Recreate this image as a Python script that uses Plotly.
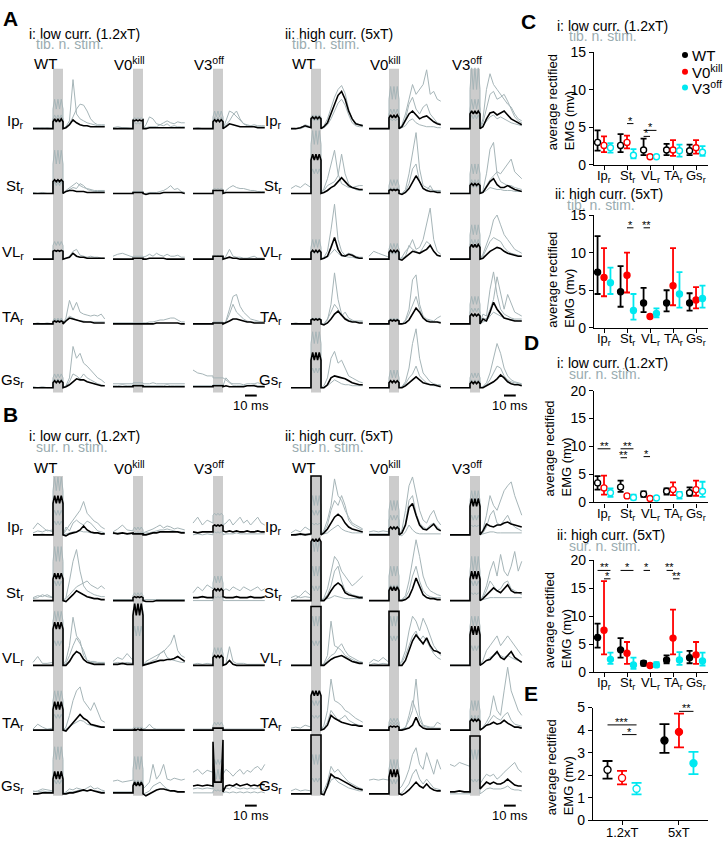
import plotly.graph_objects as go

W, H = 723, 846

GENOS = ["WT", "V0<sup>kill</sup>", "V3<sup>off</sup>"]
MUSCLES = ["Ip<sub>r</sub>", "St<sub>r</sub>", "VL<sub>r</sub>", "TA<sub>r</sub>", "Gs<sub>r</sub>"]
COLORS = ["#000000", "#ff0000", "#00e8f0"]
GRAY_TRACE = "#a6b5b8"
STIM_GRAY = "#cccccc"
SUBTITLE = "#9aacb0"

# time base of the EMG traces (ms, stimulus train 0-8.5 ms)
T_MS = [-17, -13, -9, -5, 0, 0, 1.4, 2.8, 4.2, 5.6, 7, 8.5, 8.5,
        11, 14, 17, 20, 23, 26, 29, 32, 35, 38, 41, 44]

# EMG traces (amplitude, a.u.) per muscle Ip, St, VL, TA, Gs; first trace = mean (black), rest = single animals
A_LOW_WT = [
    [[0,0,0,0,0, 7,10,7,10,7,10,7, 0, 1,4,9,6,4,3,3,2,2,2,2,2],
     [1,0,1,0,0, 20,30,20,30,20,30,20, 0, 2,8,50,15,10,8,6,5,4,3,3,3],
     [0,1,0,1,0, 10,14,10,14,10,14,10, 0, 2,5,12,20,25,24,18,10,6,4,4,4]],
    [[0,0,0,0,0, 12,14,12,14,12,14,12, 0, 2,3,3,2,2,2,1,1,1,1,1,1],
     [0,0,0,0,0, 30,44,30,44,30,44,30, 0, 3,6,9,11,8,6,5,4,3,3,3,3],
     [1,0,1,0,0, 8,12,8,12,8,12,8, 0, 2,4,6,5,10,8,4,3,2,2,2,2]],
    [[0,0,0,0,0, 8,9,8,9,8,9,8, 0, 1,2,6,3,2,2,1,1,1,1,1,1],
     [0,0,0,0,0, 14,18,14,18,14,18,14, 0, 1,3,8,10,4,3,2,3,2,2,1,1]],
    [[0,0,0,0,0, 2,3,2,3,2,3,2, 0, 3,6,5,4,3,2,2,2,1,1,1,1],
     [0,1,0,0,0, 3,6,3,6,3,6,3, 0, 6,24,14,22,12,10,9,8,9,8,10,5],
     [0,0,0,1,0, 3,5,3,5,3,5,3, 0, 4,8,6,4,3,3,2,2,2,2,2,2]],
    [[0,0,0,0,0, 5,7,5,7,5,7,5, 0, 1,3,6,9,8,8,6,5,4,3,2,2],
     [0,0,0,0,0, 10,14,10,14,10,14,10, 0, 2,10,42,30,35,25,22,18,14,10,8,5],
     [1,0,1,0,0, 6,9,6,9,6,9,6, 0, 1,6,14,12,9,14,10,8,6,4,3,2]],
]
A_LOW_V0 = [
    [[0,0,0,0,0, 9,8,9,8,9,8,9, 0, 0,1,1,1,1,1,1,1,1,1,1,1],
     [1,2,1,1,0, 10,11,10,11,10,11,10, 0, 4,12,10,5,4,6,8,6,5,7,6,6],
     [0,0,1,0,0, 5,6,5,6,5,6,5, 0, 1,2,2,2,4,3,5,2,3,2,2,2]],
    [[0,0,0,0,0, 1,1,1,1,1,1,1, 0, -1,0,0,0,0,1,1,1,1,1,1,0],
     [0,0,0,0,0, 2,2,2,2,2,2,2, 0, 0,1,1,1,2,3,5,8,4,5,2,1]],
    [[0,0,0,0,0, 1,1,1,1,1,1,1, 0, 0,1,1,1,1,1,0,0,0,0,0,0],
     [3,5,6,4,2, 3,3,3,3,3,3,3, 2, 3,5,3,6,4,3,5,3,3,4,2,2]],
    [[0,0,0,0,0, 0,0,0,0,0,0,0, 0, 0,0,0,1,1,1,1,1,1,1,0,0],
     [1,1,1,1,1, 1,1,1,1,1,1,1, 1, 1,2,2,3,4,4,5,6,6,4,2,2]],
    [[1,1,1,1,1, 2,2,2,2,2,2,2, 1, 1,1,1,1,1,1,1,1,1,1,1,1],
     [4,4,4,4,4, 5,5,5,5,5,5,5, 4, 4,4,5,4,4,4,4,4,4,4,4,4],
     [2,2,3,2,2, 3,3,3,3,3,3,3, 2, 2,2,2,2,2,2,3,2,2,2,2,2]],
]
A_LOW_V3 = [
    [[0,0,0,0,0, 7,9,7,9,7,9,7, 0, 2,5,4,3,2,2,2,2,2,1,1,1],
     [0,0,0,0,0, 12,18,12,18,12,18,12, 0, 8,18,16,12,8,5,3,3,4,3,3,3],
     [0,1,0,0,0, 8,12,8,12,8,12,8, 0, 4,8,14,18,10,5,4,3,2,2,2,2]],
    [[0,0,0,0,0, 3,3,3,3,3,3,3, 0, 1,1,1,1,1,1,1,1,1,1,1,1],
     [0,0,0,0,0, 4,5,4,5,4,5,4, 0, 3,6,8,6,5,5,4,3,3,2,2,2]],
    [[0,0,0,0,0, 3,3,3,3,3,3,3, 0, 1,2,1,1,0,0,0,0,0,0,0,0],
     [0,0,0,0,0, 3,4,3,4,3,4,3, 0, 3,10,3,2,2,1,1,2,3,1,1,1]],
    [[0,0,0,0,0, 1,1,1,1,1,1,1, 0, 1,3,5,5,4,3,2,2,1,1,1,1],
     [0,0,0,0,0, 2,2,2,2,2,2,2, 0, 3,15,28,30,18,12,8,5,4,3,2,2],
     [0,0,0,0,0, 1,1,1,1,1,1,1, 0, 2,10,20,12,8,5,3,2,2,2,2,2]],
    [[1,1,1,1,1, 2,2,2,2,2,2,2, 1, 2,1,1,1,1,1,2,2,2,1,1,1],
     [18,15,14,12,12, 10,10,10,10,10,10,10, 10, 8,5,4,4,4,3,4,4,4,5,4,4],
     [2,2,2,2,2, 3,3,3,3,3,3,3, 2, 10,6,2,2,2,2,2,2,3,2,2,2]],
]
A_HIGH_WT = [
    [[0,0,1,3,1, 10,12,10,12,10,12,10, 0, 2,6,15,25,34,38,30,18,10,5,4,3],
     [0,0,1,4,2, 12,14,12,14,12,14,12, 0, 3,10,22,32,40,44,36,20,10,6,4,4],
     [0,0,0,2,1, 8,10,8,10,8,10,8, 0, 1,4,10,18,26,30,24,14,6,3,2,2]],
    [[0,0,0,0,0, 34,40,34,40,34,40,34, 0, 1,3,6,8,12,16,12,8,6,5,4,4],
     [5,8,6,10,6, 50,64,50,64,50,64,50, 0, 5,15,30,44,20,10,8,6,6,7,8,8],
     [0,0,0,0,0, 20,25,20,25,20,25,20, 0, 3,8,10,12,18,40,20,10,6,4,3,3]],
    [[0,0,0,0,0, 7,9,7,9,7,9,7, 0, 1,3,12,22,10,4,3,5,4,2,1,1],
     [0,0,0,0,0, 12,20,12,20,12,20,12, 0, 2,8,30,56,20,8,4,6,5,3,2,2],
     [0,0,0,0,0, 6,8,6,8,6,8,6, 0, 1,2,6,10,6,3,3,2,2,1,1,1]],
    [[0,0,0,0,0, 4,5,4,5,4,5,4, 0, -1,1,5,10,13,9,5,3,2,2,1,1],
     [0,0,0,0,0, 5,6,5,6,5,6,5, 0, 0,4,20,52,25,10,6,4,3,3,3,3],
     [0,1,0,0,0, 4,5,4,5,4,5,4, 0, 0,5,12,20,15,8,12,6,4,2,2,2]],
    [[0,0,0,0,0, 28,36,28,36,28,36,28, 0, 0,3,10,12,11,10,9,7,5,4,3,3],
     [0,0,0,0,0, 45,57,45,57,45,57,45, 0, 2,10,30,37,25,28,20,12,10,8,6,5],
     [0,0,0,0,0, 15,20,15,20,15,20,15, 0, 0,2,5,8,6,4,3,3,2,2,2,2]],
]
A_HIGH_V0 = [
    [[0,0,0,0,0, 11,14,11,14,11,14,11, 0, 2,8,15,18,14,10,12,13,10,7,5,4],
     [0,0,0,0,0, 30,43,30,43,30,43,30, 0, 4,15,30,45,35,40,45,60,35,38,30,28],
     [0,0,0,0,0, 15,20,15,20,15,20,15, 0, 3,10,25,32,20,15,22,25,15,10,6,5],
     [0,0,0,0,0, 8,10,8,10,8,10,8, 0, 1,3,8,10,6,4,3,2,2,2,1,1]],
    [[0,0,0,0,0, 3,4,3,4,3,4,3, 0, -1,1,5,12,18,12,5,3,2,2,1,1],
     [0,0,0,0,0, 8,14,8,14,8,14,8, 0, 0,4,20,40,62,25,8,6,4,3,3,3],
     [0,0,0,0,0, 4,6,4,6,4,6,4, 0, 0,2,10,25,30,12,5,3,8,2,2,2]],
    [[0,0,0,0,0, 7,9,7,9,7,9,7, 0, -1,2,5,8,7,6,8,10,14,8,4,3],
     [3,8,6,4,2, 10,16,10,16,10,16,10, 0, 2,8,12,20,10,12,20,35,52,20,8,5],
     [0,0,0,0,0, 5,7,5,7,5,7,5, 0, 1,3,14,10,8,6,12,18,15,8,4,3]],
    [[0,0,0,0,0, 3,4,3,4,3,4,3, 0, 0,1,4,10,16,12,6,3,2,2,2,1],
     [0,0,0,0,0, 4,6,4,6,4,6,4, 0, 0,4,15,45,50,20,8,5,4,3,6,8],
     [0,0,0,0,0, 3,5,3,5,3,5,3, 0, 0,3,10,20,28,15,6,3,3,2,2,2]],
    [[0,0,0,0,0, 5,7,5,7,5,7,5, 0, 0,2,5,8,11,8,5,4,3,3,2,1],
     [0,0,0,0,0, 10,18,10,18,10,18,10, 0, 1,6,20,45,60,30,15,10,6,4,3,3],
     [0,0,0,0,0, 5,8,5,8,5,8,5, 0, 1,4,10,14,22,12,8,5,3,2,2,2]],
]
A_HIGH_V3 = [
    [[0,0,0,0,0, 15,18,15,18,15,18,15, 0, 2,10,16,17,14,16,18,14,10,8,6,4],
     [0,0,0,0,0, 40,62,40,62,40,62,40, 0, 10,40,56,45,40,35,30,25,22,15,10,8],
     [0,0,0,0,0, 20,30,20,30,20,30,20, 0, 6,22,35,38,30,32,35,28,20,12,8,6],
     [0,0,0,0,0, 10,14,10,14,10,14,10, 0, 3,8,12,14,10,12,10,8,6,5,4,3]],
    [[0,0,0,0,0, 8,10,8,10,8,10,8, 0, 1,6,12,15,9,6,6,8,6,4,3,2],
     [0,0,0,0,0, 20,30,20,30,20,30,20, 0, 3,20,45,52,20,12,10,8,8,6,5,4],
     [0,0,0,0,0, 10,14,10,14,10,14,10, 0, 2,8,14,18,22,20,25,30,35,22,18,15],
     [0,0,0,0,0, 6,8,6,8,6,8,6, 0, 1,3,6,5,4,4,3,3,3,2,2,2]],
    [[0,0,0,0,0, 12,15,12,15,12,15,12, 0, 1,4,8,10,12,11,8,6,5,4,3,3],
     [0,0,0,0,0, 25,35,25,35,25,35,25, 0, 5,15,25,40,45,35,25,20,15,10,8,6],
     [0,0,0,0,0, 15,20,15,20,15,20,15, 0, 3,10,18,22,20,18,12,8,6,5,4,3]],
    [[0,0,0,0,0, 8,10,8,10,8,10,8, 0, 5,3,12,22,15,10,6,5,4,3,3,3],
     [0,0,0,0,0, 20,28,20,28,20,28,20, 0, 10,8,35,53,30,15,10,8,6,5,5,5],
     [0,0,0,0,0, 12,16,12,16,12,16,12, 0, 6,5,15,25,48,30,15,30,20,12,10,8],
     [0,0,0,0,0, 8,10,8,10,8,10,8, 0, 2,3,8,12,10,8,6,5,4,4,3,3]],
    [[0,0,0,0,0, 4,6,4,6,4,6,4, 0, 0,2,4,6,9,13,10,6,4,3,3,2],
     [0,0,0,0,0, 10,15,10,15,10,15,10, 0, 1,5,15,30,45,35,20,12,8,6,5,4],
     [0,0,0,0,0, 6,8,6,8,6,8,6, 0, 1,3,8,15,22,20,12,8,6,5,4,3]],
]
B_LOW_WT = [
    [[0,0,0,0,0, 32,40,32,40,32,40,32, 0, -1,1,2,3,5,9,5,3,2,2,1,1],
     [6,12,8,4,5, 45,59,45,59,45,59,45, 0, 5,10,15,20,25,34,22,18,14,12,8,6],
     [2,4,3,5,3, 20,25,20,25,20,25,20, 0, 8,4,12,15,12,10,14,12,8,4,3,2],
     [0,0,1,0,0, 10,14,10,14,10,14,10, 0, 1,2,3,3,4,3,3,2,2,2,1,1]],
    [[0,0,0,0,0, 22,28,22,28,22,28,22, 0, -1,2,6,10,8,6,4,3,2,2,1,1],
     [3,5,4,6,3, 40,55,40,55,40,55,40, 0, 3,20,40,52,30,15,10,8,6,5,4,4],
     [2,3,6,4,3, 15,20,15,20,15,20,15, 0, 2,6,10,14,16,18,20,16,14,12,15,12]],
    [[0,0,0,0,0, 37,44,37,44,37,44,37, 0, 0,4,10,14,12,6,3,2,1,1,1,1],
     [3,9,2,2,3, 45,55,45,55,45,55,45, 0, 5,20,49,30,25,10,5,4,4,3,3,3],
     [0,0,0,0,0, 20,25,20,25,20,25,20, 0, 2,10,20,28,22,15,5,3,3,2,2,2]],
    [[0,0,0,0,0, 21,29,21,29,21,29,21, 0, -1,3,8,12,16,12,10,6,5,4,3,3],
     [1,6,3,1,2, 30,40,30,40,30,40,30, 0, 3,15,30,40,44,30,25,20,28,18,10,8],
     [0,0,0,0,0, 12,16,12,16,12,16,12, 0, 1,3,6,8,10,9,6,5,4,3,3,3]],
    [[0,0,1,1,1, 15,23,15,23,15,23,15, 0, 0,1,1,2,3,4,3,4,3,2,1,1],
     [2,3,5,4,3, 35,48,35,48,35,48,35, 0, 2,5,4,6,5,4,6,8,5,6,4,3],
     [3,2,3,2,2, 10,14,10,14,10,14,10, 0, 1,2,2,3,4,3,3,4,3,3,2,2]],
]
B_LOW_V0 = [
    [[2,1,2,1,2, 1,1,1,1,1,1,1, 0, 0,1,2,2,3,3,3,3,3,3,2,2],
     [3,6,10,5,4, 5,8,5,8,5,8,5, 2, 3,4,6,8,10,7,9,8,6,7,6,5],
     [1,2,2,1,1, 2,3,2,3,2,3,2, 1, 2,2,3,4,5,5,6,5,4,3,3,3]],
    [[0,0,0,0,0, 3,4,3,4,3,4,3, 0, -1,-1,-1,0,0,0,0,0,0,0,0,0],
     [1,1,1,1,1, 5,8,5,8,5,8,5, 1, 1,1,1,1,1,1,1,1,1,1,1,1]],
    [[1,1,2,1,1, 51,63,51,63,51,63,51, 0, 1,2,3,4,5,5,6,6,7,9,6,4],
     [4,8,6,12,5, 55,63,55,63,55,63,55, 0, 4,6,8,10,12,14,18,22,31,15,10,8],
     [2,3,2,3,2, 30,40,30,40,30,40,30, 0, 2,3,5,6,12,15,8,6,5,4,3,3]],
    [[0,0,0,0,0, 0,1,0,1,0,1,0, 0, 0,0,0,0,0,0,0,0,0,0,0,0],
     [1,1,1,1,1, 2,3,2,3,2,3,2, 1, 2,6,2,1,1,1,1,1,1,1,1,1]],
    [[1,1,1,1,1, 8,12,8,12,8,12,8, 0, -2,0,2,4,5,5,4,3,3,2,2,2],
     [13,14,12,13,14, 25,38,25,38,25,38,25, 5, 8,12,30,15,20,30,15,14,16,15,14,15],
     [2,2,2,2,2, 10,14,10,14,10,14,10, 0, 1,3,8,10,12,8,5,3,3,2,2,2]],
]
B_LOW_V3 = [
    [[3,2,3,3,3, 9,10,9,10,9,10,9, 4, 3,4,3,4,3,3,4,3,3,4,3,3],
     [12,18,10,15,12, 20,22,20,22,20,22,20, 10, 12,16,10,14,18,12,15,10,14,18,12,10],
     [0,1,0,1,0, 2,3,2,3,2,3,2, 0, 1,1,1,2,1,1,1,1,1,1,1,1]],
    [[3,3,4,3,3, 10,12,10,12,10,12,10, 4, 3,3,3,4,3,3,3,4,3,3,3,4],
     [8,14,10,16,12, 18,25,18,25,18,25,18, 10, 12,10,14,12,10,14,12,10,12,14,10,12],
     [0,0,0,0,0, 3,4,3,4,3,4,3, 0, 0,0,0,0,0,0,0,0,0,0,0,0]],
    [[0,0,0,0,0, 8,10,8,10,8,10,8, 0, 1,5,1,0,0,0,0,0,0,0,0,0],
     [1,2,1,2,1, 12,18,12,18,12,18,12, 0, 2,19,4,2,2,2,1,1,1,1,1,1]],
    [[0,0,0,0,0, 2,2,2,2,2,2,2, 0, 0,0,0,0,0,0,0,0,0,0,0,0],
     [1,1,1,1,1, 5,8,5,8,5,8,5, 1, 1,1,1,1,1,1,1,1,1,1,1,1]],
    [[8,9,8,9,8, 53,12,12,12,12,12,55, 2, 8,9,8,10,8,9,10,8,9,8,10,9],
     [22,25,20,24,22, 30,35,30,35,30,35,30, 20, 25,22,18,22,25,20,24,22,26,28,24,30],
     [1,1,1,1,1, 3,4,3,4,3,4,3, 1, 2,1,2,1,2,1,2,1,2,1,2,1],
     [5,6,5,6,5, 15,25,15,25,15,25,15, 5, 6,5,8,6,5,6,5,6,5,6,5,6]],
]
B_HIGH_WT = [
    [[0,0,1,0,1, 60,60,60,60,60,60,60, 0, 2,6,12,18,21,18,12,8,6,5,4,3],
     [2,5,3,8,4, 30,40,30,40,30,40,30, 0, 5,15,30,57,40,35,25,18,12,10,8,6],
     [0,1,0,1,0, 20,25,20,25,20,25,20, 0, 3,10,25,35,30,40,30,15,10,8,6,5],
     [0,0,0,0,0, 10,12,10,12,10,12,10, 0, 1,2,5,8,10,6,4,3,2,2,2,2]],
    [[0,0,0,0,0, 60,63,60,63,60,63,60, 0, 0,4,10,15,18,15,8,6,5,4,3,3],
     [3,5,3,4,3, 50,62,50,62,50,62,50, 0, 3,12,30,45,40,30,25,20,15,18,22,25],
     [0,2,5,10,5, 25,35,25,35,25,35,25, 0, 2,6,15,30,35,20,10,8,6,5,4,4],
     [0,0,0,0,0, 10,15,10,15,10,15,10, 0, 1,2,3,5,4,3,2,2,2,2,2,2]],
    [[0,0,0,0,0, 60,60,60,60,60,60,60, 0, 0,3,6,8,9,10,8,6,4,3,2,2],
     [0,0,0,0,0, 40,50,40,50,40,50,40, 0, 2,10,45,20,18,22,15,10,8,6,4,3],
     [0,0,0,0,0, 20,25,20,25,20,25,20, 0, 1,5,10,12,18,15,10,8,6,4,3,3]],
    [[0,0,0,0,0, 35,40,35,40,35,40,35, 0, 1,5,15,12,10,8,7,6,5,5,4,4],
     [2,3,2,5,3, 25,30,25,30,25,30,25, 0, 5,20,52,30,28,25,20,18,15,12,10,8],
     [0,0,0,0,0, 12,15,12,15,12,15,12, 0, 2,8,20,15,10,12,15,10,8,6,5,4]],
    [[0,0,0,0,0, 60,60,60,60,60,60,60, 0, -1,8,20,17,16,14,12,10,8,6,5,4],
     [3,5,3,4,3, 30,40,30,40,30,40,30, 0, 4,12,28,22,25,20,16,12,10,8,6,5],
     [0,0,0,0,0, 12,16,12,16,12,16,12, 0, 2,6,14,16,12,10,8,6,5,4,3,3]],
]
B_HIGH_V0 = [
    [[0,0,0,0,0, 6,8,6,8,6,8,6, 0, 2,10,28,32,20,10,6,5,8,11,6,4],
     [3,4,3,4,3, 25,35,25,35,25,35,25, 0, 5,25,50,59,40,25,15,12,20,25,15,10],
     [1,1,1,1,1, 15,20,15,20,15,20,15, 0, 2,12,35,40,22,12,8,6,10,12,8,5],
     [0,0,0,0,0, 6,8,6,8,6,8,6, 0, -1,3,10,5,2,1,1,1,1,1,1,1]],
    [[0,0,0,0,0, 10,14,10,14,10,14,10, 0, 0,1,4,12,23,14,6,3,2,2,1,1],
     [0,0,0,0,0, 25,35,25,35,25,35,25, 0, 1,5,20,40,62,45,25,15,10,8,6,5],
     [0,0,0,0,0, 12,16,12,16,12,16,12, 0, 1,3,10,25,35,20,10,6,4,3,3,3]],
    [[0,0,0,0,0, 55,55,55,55,55,55,55, 0, 0,5,15,25,31,26,22,28,20,15,14,12],
     [2,6,4,8,3, 40,50,40,50,40,50,40, 0, 5,15,35,50,45,35,48,40,30,20,15,10],
     [0,2,1,2,1, 25,30,25,30,25,30,25, 0, 3,10,20,30,35,25,30,25,18,12,8,6]],
    [[0,0,0,0,0, 3,4,3,4,3,4,3, 0, 0,1,2,5,13,5,2,1,1,1,1,1],
     [0,0,0,0,0, 8,12,8,12,8,12,8, 0, 1,3,10,20,52,15,5,4,3,3,8,6],
     [0,0,0,0,0, 5,8,5,8,5,8,5, 0, 1,2,15,30,20,10,4,3,2,2,2,2]],
    [[0,0,0,0,0, 17,25,17,25,17,25,17, 0, -1,1,4,8,12,8,6,10,6,4,3,3],
     [14,15,14,15,14, 25,35,25,35,25,35,25, 5, 8,15,25,40,47,30,25,42,30,20,35,25],
     [0,0,0,0,0, 10,15,10,15,10,15,10, 0, 1,5,10,20,25,15,10,15,10,6,5,4]],
]
B_HIGH_V3 = [
    [[0,0,0,0,0, 29,37,29,37,29,37,29, 0, 4,11,9,8,10,10,12,13,11,10,9,8],
     [0,0,0,0,0, 35,45,35,45,35,45,35, 0, 5,20,40,30,25,35,45,50,54,40,30,20],
     [0,0,0,0,0, 15,20,15,20,15,20,15, 0, 2,8,20,25,12,10,15,20,12,8,6,4],
     [0,0,0,0,0, 8,10,8,10,8,10,8, 0, 1,2,3,3,2,2,2,2,2,2,2,2]],
    [[0,0,0,0,0, 22,30,22,30,22,30,22, 0, 2,6,10,13,10,8,12,16,10,8,8,8],
     [0,0,0,0,0, 30,45,30,45,30,45,30, 0, 5,15,30,40,25,47,30,25,35,50,30,40],
     [0,0,0,0,0, 15,20,15,20,15,20,15, 0, 3,10,20,15,10,12,18,20,12,10,8,6],
     [0,0,0,0,0, 6,8,6,8,6,8,6, 0, 1,2,3,3,3,3,3,3,3,3,3,3]],
    [[0,0,0,0,0, 31,40,31,40,31,40,31, 0, 2,5,6,10,14,8,6,10,14,8,5,3],
     [0,0,0,0,0, 40,50,40,50,40,50,40, 0, 5,15,20,25,30,20,25,30,25,20,15,10],
     [0,0,0,0,0, 15,20,15,20,15,20,15, 0, 2,5,8,10,12,10,8,10,8,6,5,4]],
    [[0,0,0,0,0, 9,11,9,11,9,11,9, 0, 2,5,6,8,6,7,10,7,5,3,3,2],
     [0,0,0,0,0, 20,30,20,30,20,30,20, 0, 3,8,15,35,20,15,40,64,40,30,20,15],
     [0,0,0,0,0, 10,15,10,15,10,15,10, 0, 2,5,10,15,12,10,15,18,10,6,5,4]],
    [[2,2,3,2,2, 59,59,59,59,59,59,59, 5, 8,12,10,12,10,10,12,15,12,9,8,8],
     [30,28,32,30,28, 35,45,35,45,35,45,35, 10, 15,20,18,20,15,18,22,25,28,32,25,22],
     [0,0,0,0,0, 12,15,12,15,12,15,12, 0, 2,5,6,5,5,5,6,8,5,4,4,3]],
]

# average rectified EMG (mV): [mean, lower, upper] per muscle
C1_WT = [[3.0, 1.9, 4.6], [2.6, 1.7, 4.1], [2.0, 1.3, 3.5], [2.0, 1.3, 2.8], [1.9, 1.3, 2.7]]
C1_V0 = [[2.6, 1.7, 3.8], [3.0, 2.2, 3.9], [1.1, 0.95, 1.2], [2.0, 1.2, 3.3], [2.3, 1.5, 3.3]]
C1_V3 = [[2.3, 1.65, 2.9], [1.3, 0.87, 2.1], [1.1, 0.95, 1.2], [1.9, 1.1, 2.7], [1.7, 1.2, 2.5]]
C2_WT = [[7.4, 4.5, 12.2], [4.8, 2.8, 8.2], [3.3, 2.1, 5.3], [3.3, 2.2, 5.0], [3.3, 2.3, 4.6]]
C2_V0 = [[6.7, 4.2, 10.6], [7.0, 4.7, 10.0], [1.5, 1.3, 1.7], [5.6, 3.0, 10.6], [3.7, 2.6, 5.4]]
C2_V3 = [[6.0, 4.5, 8.0], [2.3, 1.1, 4.5], [1.9, 1.4, 2.6], [4.5, 2.7, 7.4], [3.9, 2.7, 5.6]]
D1_WT = [[3.5, 2.3, 4.7], [2.75, 1.9, 3.9], [1.5, 1.0, 2.0], [2.0, 1.4, 2.5], [1.75, 1.2, 2.7]]
D1_V0 = [[2.6, 1.4, 4.8], [1.17, 0.9, 1.4], [0.7, 0.55, 0.85], [2.3, 1.3, 3.6], [2.3, 1.2, 3.9]]
D1_V3 = [[1.75, 1.0, 2.5], [0.9, 0.5, 1.4], [0.8, 0.6, 1.0], [1.4, 0.7, 1.9], [2.0, 1.0, 3.7]]
D2_WT = [[6.2, 4.4, 8.7], [4.0, 2.6, 6.1], [1.6, 1.2, 2.0], [2.2, 1.6, 3.0], [2.6, 1.6, 3.8]]
D2_V0 = [[7.5, 3.2, 16.3], [3.4, 1.5, 5.4], [1.2, 1.05, 1.35], [6.1, 3.2, 11.2], [3.1, 1.5, 5.4]]
D2_V3 = [[2.3, 1.5, 3.5], [1.3, 0.6, 2.6], [1.3, 0.9, 1.8], [2.2, 1.3, 3.6], [2.0, 1.2, 3.5]]
E_CURRENTS = ["1.2xT", "5xT"]
E_WT = [[2.24, 1.85, 2.63], [3.54, 2.99, 4.26]]
E_V0 = [[1.88, 1.59, 2.19], [3.92, 3.23, 4.73]]
E_V3 = [[1.40, 1.15, 1.66], [2.53, 2.05, 3.03]]

# significance bars: (category index, from genotype, to genotype, height mV, stars)
C1_SIG = [(1, 1, 2, 5.5, "*"), (2, 0, 2, 4.6, "*"), (2, 0, 1, 3.8, "*")]
C2_SIG = [(1, 1, 2, 13.3, "*"), (2, 0, 1, 13.3, "**")]
D1_SIG = [(0, 0, 2, 9.6, "**"), (1, 0, 2, 9.6, "**"), (1, 0, 1, 8.0, "**"), (2, 0, 1, 8.2, "*")]
D2_SIG = [(0, 0, 2, 18.2, "**"), (0, 1, 2, 16.7, "*"), (1, 0, 2, 18.2, "*"), (2, 0, 1, 18.2, "*"),
          (3, 0, 1, 18.2, "**"), (3, 1, 2, 16.7, "**")]
E_SIG = [(0, 0, 2, 4.23, "***"), (0, 1, 2, 3.80, "*"), (1, 0, 2, 5.22, "*"), (1, 1, 2, 4.83, "**")]

FONT = "Arial, Liberation Sans, sans-serif"
PX_MS = 10 / 8.5


def paper(x, y):
    return x / W, 1 - y / H


def text(fig, x, y, s, size=14, color="black", xanchor="left", bold=False, angle=0, align="left"):
    px_, py_ = paper(x, y)
    if bold:
        s = "<b>" + s + "</b>"
    fig.add_annotation(x=px_, y=py_, xref="paper", yref="paper", text=s, showarrow=False,
                       xanchor=xanchor, yanchor="middle", textangle=angle, align=align,
                       font=dict(family=FONT, size=size, color=color))


fig = go.Figure()

# ---- EMG trace panels, drawn on a hidden pixel axis ----
blocks = [
    ([A_LOW_WT, A_LOW_V0, A_LOW_V3], [53, 133, 213], [123, 189, 256, 322, 387], 62, 392),
    ([A_HIGH_WT, A_HIGH_V0, A_HIGH_V3], [311, 389, 470], [123, 189, 256, 322, 387], 62, 392),
    ([B_LOW_WT, B_LOW_V0, B_LOW_V3], [53, 133, 213], [537, 604, 670, 736, 801], 477, 803),
    ([B_HIGH_WT, B_HIGH_V0, B_HIGH_V3], [311, 389, 470], [537, 604, 670, 736, 801], 477, 803),
]
gx, gy, bx, by = [], [], [], []
for genos, stims, rows, top, bot in blocks:
    for cells, sx in zip(genos, stims):
        fig.add_shape(type="rect", xref="x", yref="y", x0=sx, x1=sx + 8.5 * PX_MS, y0=top, y1=bot,
                      fillcolor=STIM_GRAY, line_width=0, layer="below")
        for traces, base in zip(cells, rows):
            for k, tr in enumerate(traces):
                assert len(tr) == len(T_MS)
                xs = [sx + t * PX_MS for t in T_MS]
                ys = [base - v for v in tr]
                if k == 0:
                    bx += xs + [None]
                    by += ys + [None]
                else:
                    gx += xs + [None]
                    gy += ys + [None]

fig.add_trace(go.Scatter(x=gx, y=gy, mode="lines", line=dict(color=GRAY_TRACE, width=1),
                         hoverinfo="skip", xaxis="x", yaxis="y"))
fig.add_trace(go.Scatter(x=bx, y=by, mode="lines", line=dict(color="black", width=1.6),
                         hoverinfo="skip", xaxis="x", yaxis="y"))

# scale bars 10 ms
for x0, y0 in [(245, 395), (504, 395), (245, 813), (504, 813)]:
    fig.add_trace(go.Scatter(x=[x0, x0 + 10 * PX_MS], y=[y0, y0], mode="lines",
                             line=dict(color="black", width=2), hoverinfo="skip"))
    text(fig, x0 + 5 * PX_MS, y0 + 10, "10 ms", size=13, xanchor="center")

# labels of trace panels
text(fig, 1, 11, "A", size=21, bold=True)
text(fig, 1, 414, "B", size=21, bold=True)
for x0, y0, cur, stim in [(27, 26, "i: low curr. (1.2xT)", "tib. n. stim."),
                          (283, 26, "ii: high curr. (5xT)", "tib. n. stim."),
                          (27, 436, "i: low curr. (1.2xT)", "sur. n. stim."),
                          (283, 436, "ii: high curr. (5xT)", "sur. n. stim.")]:
    text(fig, x0, y0, cur, size=14)
    text(fig, x0 + 7, y0 + 11, stim, size=14, color=SUBTITLE)
for heads_y, rows in [(57, [123, 189, 256, 322, 387]), (468, [537, 604, 670, 736, 801])]:
    for cx0 in ([32, 112, 192], [290, 368, 450]):
        for g, hx in zip(GENOS, cx0):
            text(fig, hx, heads_y, g, size=15)
    for lx in (26, 284):
        for m, base in zip(MUSCLES, rows):
            text(fig, lx, base - 7, m, size=15, xanchor="right")

# ---- summary dot plots ----
panels = [
    (2, [C1_WT, C1_V0, C1_V3], C1_SIG, True, (45, 160), 15, 5),
    (3, [C2_WT, C2_V0, C2_V3], C2_SIG, False, (211, 326), 15, 5),
    (4, [D1_WT, D1_V0, D1_V3], D1_SIG, True, (390, 504), 20, 5),
    (5, [D2_WT, D2_V0, D2_V3], D2_SIG, False, (563, 677), 20, 5),
]
OFF = [-0.28, 0, 0.28]
E_OFF = [-0.255, 0, 0.255]


def dots(fig, n, data, sigs, is_open, cats, offs, msize, cap):
    for gi, rows in enumerate(data):
        c = COLORS[gi]
        fig.add_trace(go.Scatter(
            x=[x + offs[gi] for x in cats], y=[r[0] for r in rows], mode="markers",
            error_y=dict(type="data", symmetric=False, array=[r[2] - r[0] for r in rows],
                         arrayminus=[r[0] - r[1] for r in rows], color=c, thickness=1.8, width=cap),
            marker=dict(symbol="circle", size=msize, color="white" if is_open else c,
                        line=dict(color=c, width=1.4)),
            xaxis="x%d" % n, yaxis="y%d" % n, hoverinfo="skip"))
    sx, sy = [], []
    for ci, g0, g1, yv, lab in sigs:
        xa, xb = cats[ci] + offs[g0], cats[ci] + offs[g1]
        sx += [xa, xb, None]
        sy += [yv, yv, None]
        fig.add_annotation(x=(xa + xb) / 2, y=yv, xref="x%d" % n, yref="y%d" % n, text=lab,
                           showarrow=False, yanchor="bottom", yshift=-5,
                           font=dict(family=FONT, size=11, color="black"))
    fig.add_trace(go.Scatter(x=sx, y=sy, mode="lines", line=dict(color="black", width=1),
                             xaxis="x%d" % n, yaxis="y%d" % n, hoverinfo="skip"))


def axes(n, ytop, ybot, ymax, dtick, xlo, xhi, tickvals, ticktext, xl=594, xr=708):
    ax = dict(showline=True, linecolor="black", linewidth=1.3, ticks="outside", ticklen=4,
              tickwidth=1.3, tickcolor="black", showgrid=False, zeroline=False,
              tickfont=dict(family=FONT, size=14, color="black"))
    fig.update_layout(**{
        "xaxis%d" % n: dict(ax, domain=[xl / W, xr / W], anchor="y%d" % n, range=[xlo, xhi],
                            tickvals=tickvals, showticklabels=False),
        "yaxis%d" % n: dict(ax, domain=[1 - ybot / H, 1 - ytop / H], anchor="x%d" % n,
                            range=[0, ymax], dtick=dtick),
    })
    # category labels placed just under the axis
    for v, t in zip(tickvals, ticktext):
        fig.add_annotation(x=v, y=1 - (ybot + 12) / H, xref="x%d" % n, yref="paper", text=t,
                           showarrow=False, xanchor="center", yanchor="middle",
                           font=dict(family=FONT, size=13, color="black"))


cats5 = [1, 2, 3, 4, 5]
for n, data, sigs, is_open, (yt, yb), ymax, dt in panels:
    dots(fig, n, data, sigs, is_open, cats5, OFF, 6, 3)
    axes(n, yt, yb, ymax, dt, 0.565, 5.52, cats5, MUSCLES)

# E: open markers for 1.2xT, filled for 5xT
for gi, rows in enumerate([E_WT, E_V0, E_V3]):
    c = COLORS[gi]
    fig.add_trace(go.Scatter(
        x=[i + E_OFF[gi] for i in range(len(rows))], y=[r[0] for r in rows], mode="markers",
        error_y=dict(type="data", symmetric=False, array=[r[2] - r[0] for r in rows],
                     arrayminus=[r[0] - r[1] for r in rows], color=c, thickness=1.8, width=5),
        marker=dict(symbol="circle", size=7, color=["white", c], line=dict(color=c, width=1.4)),
        xaxis="x6", yaxis="y6", hoverinfo="skip"))
dots(fig, 6, [], E_SIG, True, [0, 1], E_OFF, 7, 5)
axes(6, 713, 828, 5, 1, -0.51, 1.51, [0, 1], E_CURRENTS, xl=593)

# panel texts on the right
text(fig, 519, 14, "C", size=21, bold=True)
text(fig, 522, 341, "D", size=21, bold=True)
text(fig, 522, 699, "E", size=21, bold=True)
for x0, y0, cur, stim in [(555, 18, "i: low curr. (1.2xT)", "tib. n. stim."),
                          (553, 190, "ii: high curr. (5xT)", "tib. n. stim."),
                          (555, 362, "i: low curr. (1.2xT)", "sur. n. stim."),
                          (555, 537, "ii: high curr. (5xT)", "sur. n. stim.")]:
    text(fig, x0, y0, cur, size=14)
    text(fig, x0 + 12, y0 + 11, stim, size=14, color=SUBTITLE)
for xc, yc in [(561, 96), (561, 277), (558, 449), (558, 624), (560, 774)]:
    text(fig, xc, yc, "average rectified<br>EMG (mv)", size=13, xanchor="center", angle=-90)

# legend of C
for gi, (g, ly) in enumerate(zip(GENOS, [48, 65, 81])):
    fig.add_trace(go.Scatter(x=[685], y=[ly], mode="markers", hoverinfo="skip",
                             marker=dict(size=6, color=COLORS[gi]), xaxis="x", yaxis="y"))
    text(fig, 690, ly, g, size=15)

fig.update_layout(
    width=W, height=H, margin=dict(l=0, r=0, t=0, b=0),
    paper_bgcolor="white", plot_bgcolor="rgba(0,0,0,0)", showlegend=False,
    xaxis=dict(domain=[0, 1], range=[0, W], visible=False, fixedrange=True),
    yaxis=dict(domain=[0, 1], range=[H, 0], visible=False, fixedrange=True),
)

fig.write_html("out.html", config={"displayModeBar": False},
               post_script="document.body.style.margin='0';")
